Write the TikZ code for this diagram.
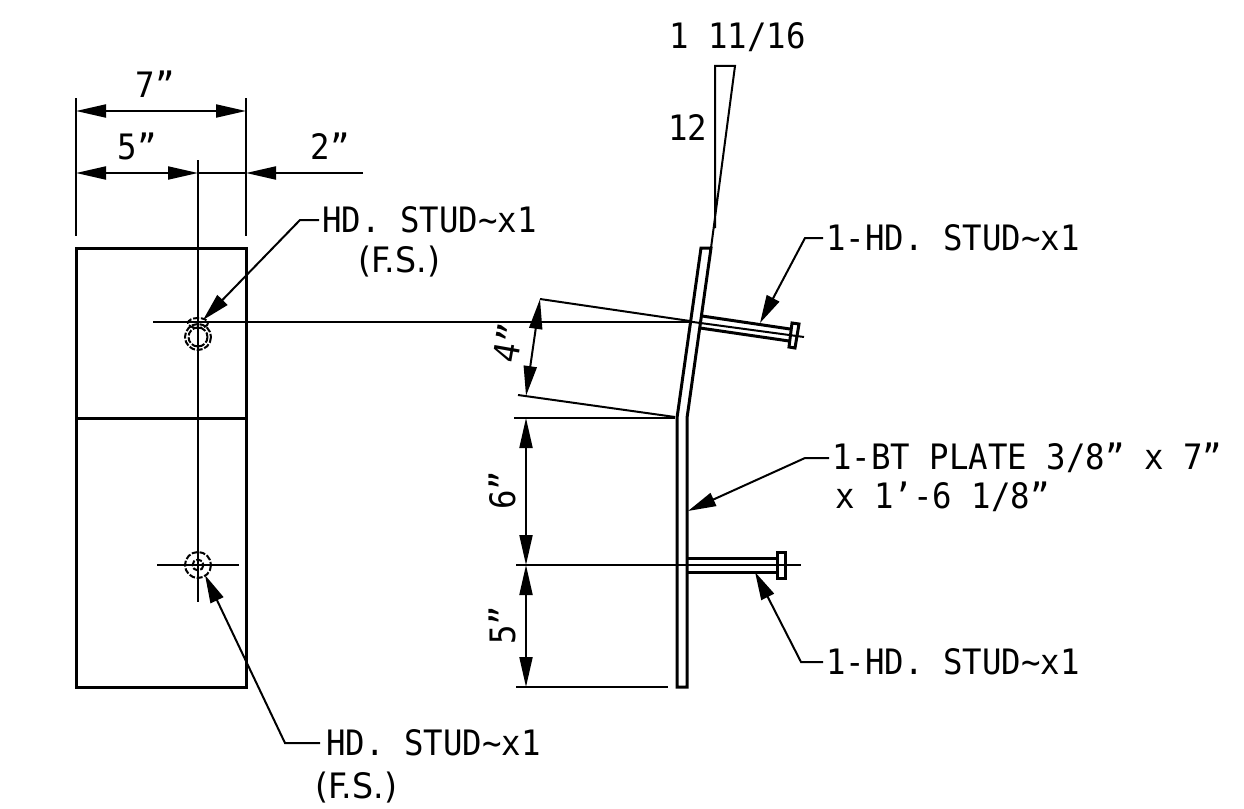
\documentclass[tikz,border=0pt]{standalone}
\usepackage{fontspec}
\setmainfont[FakeStretch=0.925]{DejaVu Sans Mono}
\newfontfamily\narrowfont[FakeStretch=0.95]{DejaVu Sans}
\usetikzlibrary{arrows.meta, positioning}
\tikzset{
thin line/.style={line width=2pt},
thick line/.style={line width=3pt},
dim/.style={thin line, {Triangle[length=30pt,width=13pt]}-{Triangle[length=30pt,width=13pt]}},
dim end/.style={thin line, -{Triangle[length=30pt,width=13pt]}},
leader/.style={thin line, -{Triangle[length=28pt,width=14pt]}},
hole/.style={thin line, dash pattern=on 6pt off 1.8pt},
label/.style={inner sep=0pt, font=\fontsize{35}{38}\selectfont}
}
\begin{document}
\begin{tikzpicture}[x=1pt,y=-1pt]
\useasboundingbox (0,0) rectangle (1244,808);

% front view
\coordinate (topL) at (76,248); \coordinate (topR) at (246,248);
\coordinate (botL) at (76,687); \coordinate (botR) at (246,687);
\coordinate (midL) at (76,418); \coordinate (midR) at (246,418);
\draw[thick line] (topL) -- (topR) -- (botR) -- (botL) -- cycle;
\draw[thick line] (midL) -- (midR);
\draw[thin line] (198,160) -- (198,602);
\draw[thin line] (157,565) -- (239,565);
\draw[thin line] (153,322) -- (693,322);
\draw[thin line] (76,98) -- (76,236);
\draw[thin line] (246,98) -- (246,236);
\draw[hole] (198,323) ellipse (10 and 5);
\draw[hole] (198,337) circle (13);
\draw[hole] (198,337) circle (9.5);
\draw[hole] (198,565) circle (13);
\draw[hole] (198,565) circle (5.5);

% dimensions across the top
\coordinate (dimA) at (76,111); \coordinate (dimB) at (246,111);
\coordinate (dimC) at (76,173); \coordinate (dimD) at (198,173);
\coordinate (dimE) at (363,173); \coordinate (dimF) at (246,173);
\draw[dim] (dimA) -- (dimB);
\draw[dim] (dimC) -- (dimD);
\draw[dim end] (dimE) -- (dimF);
\draw[thin line] (dimD) -- (dimF);
\node[label] (seven) at (155,84) {7”};
\node[label] (five) at (137,146) {5”};
\node[label] (two) at (330,146) {2”};

% side view plate
\coordinate (plA) at (677,418); \coordinate (plB) at (687,418);
\coordinate (plC) at (687,687); \coordinate (plD) at (677,687);
\coordinate (plE) at (701,248); \coordinate (plF) at (711,248);
\draw[thick line] (plB) -- (plC) -- (plD) -- (plA) -- (plE) -- (plF) -- (plB);

% slope mark
\coordinate (slA) at (715,66); \coordinate (slB) at (735,66);
\draw[thin line] (715,228) -- (slA) -- (slB) -- (711,248);
\node[label, anchor=west] (rise) at (669,37) {1 11/16};
\node[label, anchor=west] (run) at (668,128) {12};

% studs
\draw[thick line] (702,316) -- (790,329);
\draw[thick line] (700,328) -- (789,341);
\draw[thin line] (693,322) -- (804,337);
\draw[thick line] (792,323) -- (799,324) -- (795,348) -- (789,347) -- cycle;
\draw[thick line] (687,558) -- (777,558);
\draw[thick line] (687,572) -- (777,572);
\draw[thick line] (777,552) rectangle (785,578);
\draw[thin line] (516,565) -- (801,565);

% dimensions of the side view
\draw[thin line] (514,418) -- (675,418);
\draw[thin line] (516,687) -- (668,687);
\draw[thin line] (540,299) -- (690,321);
\draw[thin line] (518,395) -- (675,417);
\coordinate (dimG) at (526,418); \coordinate (dimH) at (526,565); \coordinate (dimI) at (526,687);
\coordinate (dimJ) at (540,299); \coordinate (dimK) at (526,396);
\draw[dim] (dimG) -- (dimH);
\draw[dim] (dimH) -- (dimI);
\draw[dim] (dimJ) -- (dimK);
\node[label, rotate=90] (six) at (502,490) {6”};
\node[label, rotate=90] (fivev) at (502,625) {5”};
\node[label, rotate=80] (four) at (508,343) {4”};

% notes
\node[label, anchor=west] (noteA) at (322,220) {HD. STUD\char`\~x1};
\node[label, anchor=west] (noteAa) at (358,262) {\narrowfont (F.S.)};
\node[label, anchor=west] (noteB) at (326,743) {HD. STUD\char`\~x1};
\node[label, anchor=west] (noteBb) at (315,788) {\narrowfont (F.S.)};
\node[label, anchor=west] (noteC) at (826,238) {1-HD. STUD\char`\~x1};
\node[label, anchor=west] (noteD) at (826,662) {1-HD. STUD\char`\~x1};
\node[label, anchor=west] (noteE) at (832,458) {1-BT PLATE 3/8” x 7”};
\node[label, anchor=west] (noteEe) at (835,497) {x 1'-6 1/8”};

\coordinate (tipA) at (203,320); \coordinate (tipB) at (205,575);
\coordinate (tipC) at (760,323); \coordinate (tipD) at (755,572);
\coordinate (tipE) at (688,511);
\draw[leader] (noteA.west) ++(-3,0) -- ++(-19,0) -- (tipA);
\draw[leader] (noteB.west) ++(-6,0) -- (285,743) -- (tipB);
\draw[leader] (noteC.west) ++(-3,0) -- (805,238) -- (tipC);
\draw[leader] (noteD.west) ++(-3,0) -- (801,662) -- (tipD);
\draw[leader] (noteE.west) ++(-3,0) -- (805,458) -- (tipE);
\end{tikzpicture}
\end{document}
